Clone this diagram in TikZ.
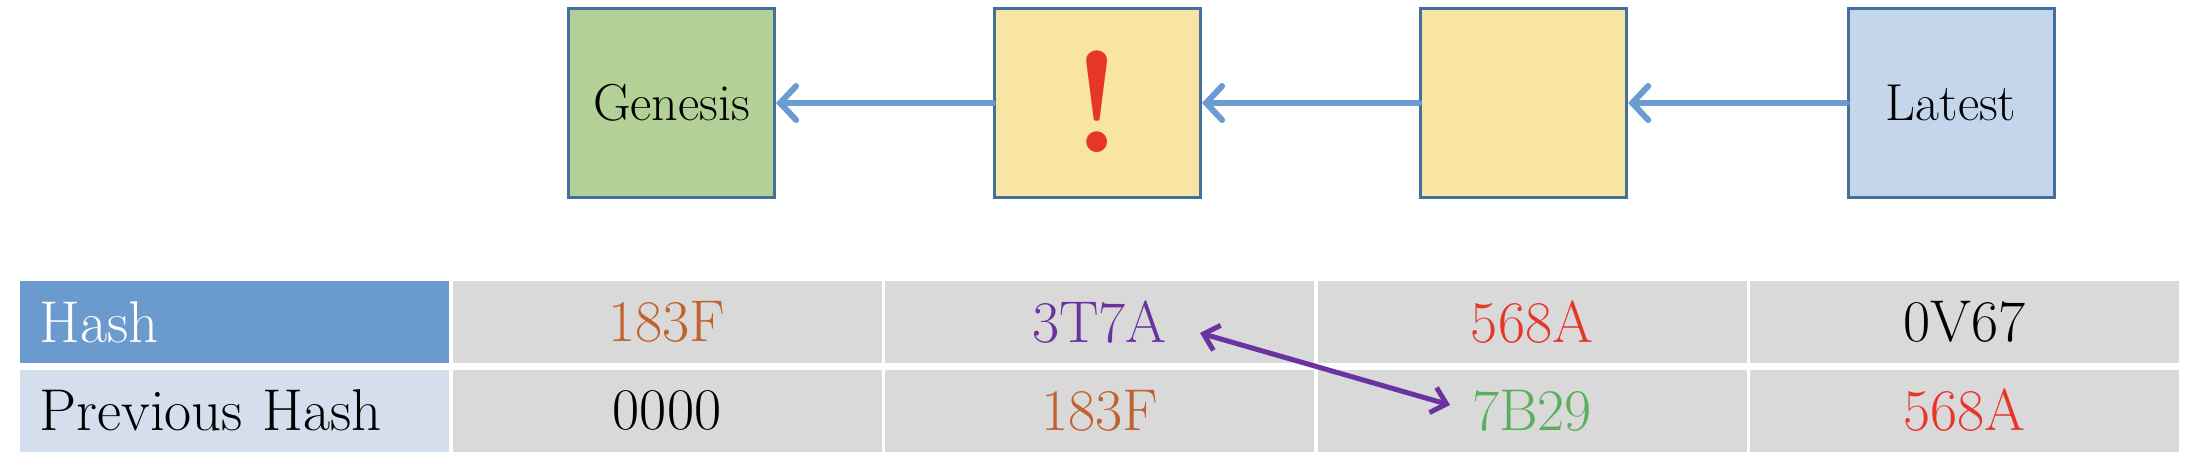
\documentclass[tikz,border=0pt]{standalone}
\usepackage{tikz}
\usetikzlibrary{arrows.meta, positioning}
\definecolor{blockline}{HTML}{41719C}
\definecolor{genesisgreen}{HTML}{B3D197}
\definecolor{blockyellow}{HTML}{F9E5A3}
\definecolor{latestblue}{HTML}{C3D6EB}
\definecolor{linkblue}{HTML}{6A9BD1}
\definecolor{hashblue}{HTML}{6A9ACE}
\definecolor{prevblue}{HTML}{D4DEEC}
\definecolor{cellgrey}{HTML}{D9D9D9}
\definecolor{hashbrown}{HTML}{C0622D}
\definecolor{hashpurple}{HTML}{6B339F}
\definecolor{hashred}{HTML}{E8352A}
\definecolor{hashgreen}{HTML}{5BAE5E}
\tikzset{
    block/.style = {rectangle, draw=blockline, line width=1.5pt,
                    minimum width=103pt, minimum height=94.5pt,
                    font=\fontsize{26}{30}\selectfont},
    link/.style = {draw=linkblue, line width=3pt,
                   -{Straight Barb[length=8pt,width=17pt,line cap=round]}},
    cell/.style = {rectangle, fill=cellgrey, minimum width=214.5pt,
                   minimum height=41pt, inner sep=0pt,
                   font=\fontsize{29.5}{34}\selectfont},
    head/.style = {cell, text width=195pt, align=left}
    }

\begin{document}
\begin{tikzpicture}[
      x=0.5pt, y=-0.5pt, % pixel grid
      line cap=round
    ]
    \useasboundingbox (0,0) rectangle (2212,470);

    % the chain of blocks
    \node[block, fill=genesisgreen] (genesis) at (671.5,103) {Genesis};
    \node[block, fill=blockyellow] (alert) at (1097.5,103) {};
    \node[block, fill=blockyellow] (middle) at (1523.6,103) {};
    \node[block, fill=latestblue] (latest) at (1951,103) {Latest};
    \node[text=hashred, font=\fontsize{72}{80}\selectfont\bfseries]
        (bang) at (1097.5,102) {!};

    \path[link] (alert.west) -- (genesis.east);
    \path[link] (middle.west) -- (alert.east);
    \path[link] (latest.west) -- (middle.east);

    % the hash table
    \node[head, fill=hashblue, text=white] (hash) at (234.5,322) {Hash};
    \node[head, fill=prevblue] (prev) at (234.5,410.5) {Previous Hash};

    \node[cell, text=hashbrown] (h1) at (667,322) {183F};
    \node[cell, text=hashpurple] (h2) at (1099.5,322) {3T7A};
    \node[cell, text=hashred] (h3) at (1532,322) {568A};
    \node[cell] (h4) at (1964.5,322) {0V67};

    \node[cell] (p1) at (667,410.5) {0000};
    \node[cell, text=hashbrown] (p2) at (1099.5,410.5) {183F};
    \node[cell, text=hashgreen] (p3) at (1532,410.5) {7B29};
    \node[cell, text=hashred] (p4) at (1964.5,410.5) {568A};

    \coordinate (swapfrom) at (1200,333);
    \coordinate (swapto) at (1450,405);
    \draw[hashpurple, line width=2.5pt,
          {Straight Barb[length=7pt,width=13pt]}-{Straight Barb[length=7pt,width=13pt]}]
        (swapfrom) -- (swapto);
\end{tikzpicture}
\end{document}
